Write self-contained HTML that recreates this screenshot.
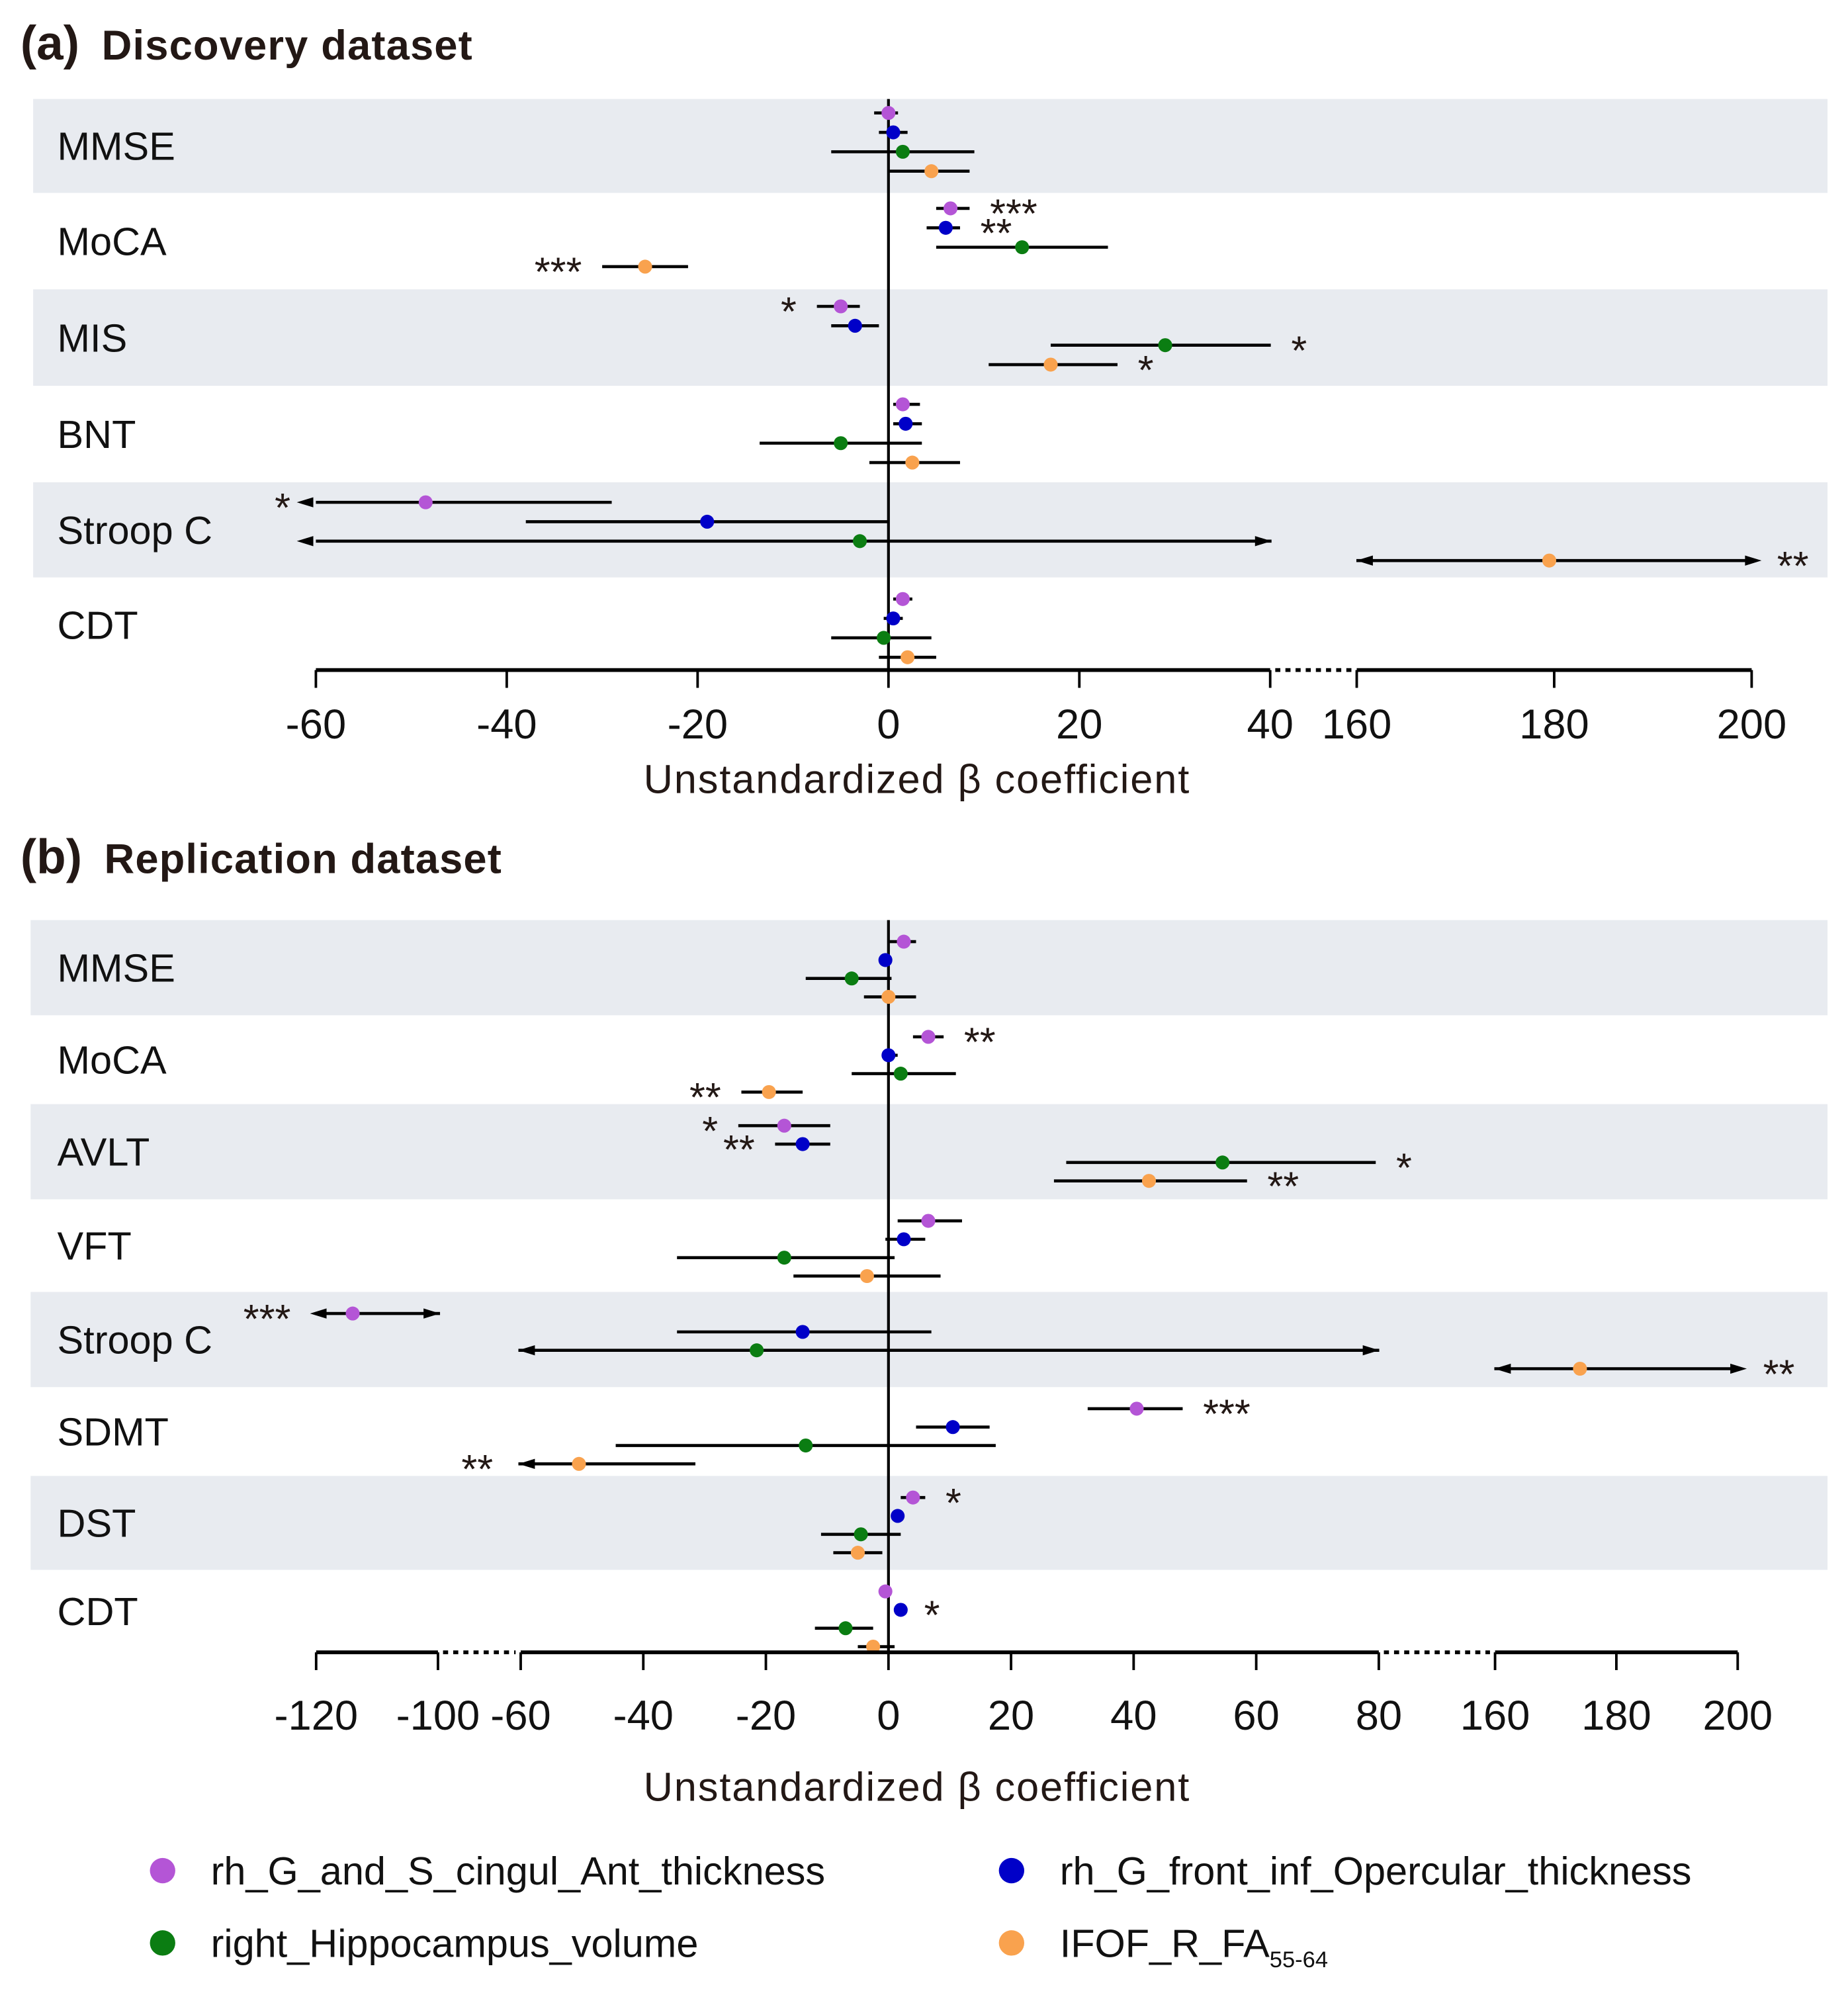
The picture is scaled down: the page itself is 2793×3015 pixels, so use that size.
<!DOCTYPE html>
<html><head><meta charset="utf-8">
<style>
html,body{margin:0;padding:0;background:#fff;}
svg{display:block;font-family:"Liberation Sans",Arial,sans-serif;}
</style></head>
<body>
<svg id="chart" width="2793" height="3015" viewBox="0 0 1456 1572" xmlns="http://www.w3.org/2000/svg">
<g id="A"></g>
<g id="B"></g>
<g id="L"></g>
</svg>
<script>
// ---- data ----
const seriesNames = ["rh_G_and_S_cingul_Ant_thickness","rh_G_front_inf_Opercular_thickness","right_Hippocampus_volume","IFOF_R_FA"];
const seriesColors = ["#b455d6","#0000c8","#0b7d12","#f9a24e"];

const catsA = ["MMSE","MoCA","MIS","BNT","Stroop C","CDT"];
const betaA = [
 [[0,-1.5,1],[0.5,-1,2],[1.5,-6,9],[4.5,0,8.5]],
 [[6.5,5,8.5],[6,4,7.5],[14,5,23],[-25.5,-30,-21]],
 [[-5,-7.5,-3],[-3.5,-6,-1],[29,17,40.5],[17,10.5,24]],
 [[1.5,0.5,3.3],[1.8,0.5,3.5],[-5,-13.5,3.5],[2.5,-2,7.5]],
 [[-48.5,-62,-29],[-19,-38,0],[-3,-62,41.5],[179.5,159.5,201]],
 [[1.5,0.5,2.5],[0.5,-0.5,1.5],[-0.5,-6,4.5],[2,-1,5]]
];
const arrowsA = [
 [[0,0],[0,0],[0,0],[0,0]],[[0,0],[0,0],[0,0],[0,0]],[[0,0],[0,0],[0,0],[0,0]],[[0,0],[0,0],[0,0],[0,0]],
 [[1,0],[0,0],[1,1],[1,1]],[[0,0],[0,0],[0,0],[0,0]]
];
const starsA = [
 ["","","",""],["***R","**R","","***L"],["*L","","*R","*R"],["","","",""],["*L","","","**R"],["","","",""]
];
const ticksA = [-60,-40,-20,0,20,40,160,180,200];

const catsB = ["MMSE","MoCA","AVLT","VFT","Stroop C","SDMT","DST","CDT"];
const betaB = [
 [[2.5,0,4.5],[-0.5,-1.5,0.5],[-6,-13.5,0.5],[0,-4,4.5]],
 [[6.5,4,9],[0,-1,1.5],[2,-6,11],[-19.5,-24,-14]],
 [[-17,-24.5,-9.5],[-14,-18.5,-9.5],[54.5,29,79.5],[42.5,27,58.5]],
 [[6.5,1.5,12],[2.5,-0.5,6],[-17,-34.5,1],[-3.5,-15.5,8.5]],
 [[-114,-121,-99],[-14,-34.5,7],[-21.5,-61,81.5],[174,159.5,201.5]],
 [[40.5,32.5,48],[10.5,4.5,16.5],[-13.5,-44.5,17.5],[-50.5,-61,-31.5]],
 [[4,2,6],[1.5,0.5,2.5],[-4.5,-11,2],[-5,-9,-1]],
 [[-0.5,-1,0],[2,1.5,2.5],[-7,-12,-2.5],[-2.5,-5,1]]
];
const arrowsB = [
 [[0,0],[0,0],[0,0],[0,0]],[[0,0],[0,0],[0,0],[0,0]],[[0,0],[0,0],[0,0],[0,0]],[[0,0],[0,0],[0,0],[0,0]],
 [[1,1],[0,0],[1,1],[1,1]],[[0,0],[0,0],[0,0],[1,0]],[[0,0],[0,0],[0,0],[0,0]],[[0,0],[0,0],[0,0],[0,0]]
];
const starsB = [
 ["","","",""],["**R","","","**L"],["*L","**L","*R","**R"],["","","",""],
 ["***L","","","**R"],["***R","","","**L"],["*R","","",""],["","*R","",""]
];
const ticksB = [-120,-100,-60,-40,-20,0,20,40,60,80,160,180,200];

// ---- axis functions ----
function xA(v){
  if(v<=40) return 700+v*7.52;
  if(v<160) return 1001+(v-40)/120*68;
  return 1069+(v-160)*7.78;
}
function xB(v){
  if(v<=-100) return 249+(v+120)*4.8;
  if(v<-60) return 345+(v+100)/40*65;
  if(v<=80) return 700+v*4.83;
  if(v<160) return 1085+(v-80)/80*93;
  return 1178+(v-160)*4.78;
}
const NS="http://www.w3.org/2000/svg";
function mk(parent,tag,attrs,text){
  const e=document.createElementNS(NS,tag);
  for(const k in attrs) e.setAttribute(k,attrs[k]);
  if(text!==undefined) e.textContent=text;
  parent.appendChild(e); return e;
}
function arrowHead(g,x,y,dir){
  const p=`${x},${y} ${x-dir*13},${y-4} ${x-dir*13},${y+4}`;
  const a=mk(g,"polygon",{points:p,fill:"#000"});
  
  
}

function panel(g,cfg){
  const {cats,beta,arrows,stars,ticks,xf,top,rowH,rowDy,bandsX,axisY,zeroX,title,letter,titleY,lblY,axisTitleY,segs,gaps,lo,hi}=cfg;
  const t1=mk(g,"text",{x:16,y:titleY,"font-size":38,"font-weight":"bold",fill:"#231815"},letter);
  
  const t2=mk(g,"text",{x:letter==="(a)"?80:82,y:titleY,"font-size":33,"font-weight":"bold",fill:"#231815",textLength:letter==="(a)"?292:313},title);
  
  const cat_y=[];
  let y=top;
  cats.forEach((c,i)=>{
    const h=rowH[i];
    if(i%2===0){
      const r=mk(g,"rect",{x:bandsX,y:y,width:1440-bandsX,height:h,fill:"#e8ebf0"});
      
    }
    const lb=mk(g,"text",{x:45,y:y+h/2+11,"font-size":31,fill:"#111"},c);
    
    cat_y.push(y); y+=h;
  });
  const zl=mk(g,"line",{x1:zeroX,x2:zeroX,y1:top,y2:axisY,stroke:"#000","stroke-width":2.2});
  
  cats.forEach((c,i)=>{
    const y0=cat_y[i];
    for(let s=0;s<4;s++){
      const [b,l,h]=beta[i][s];
      const py=y0+rowDy[0]+i*rowDy[2]+s*rowDy[1];
      const x1=xf(Math.max(l,lo)),x2=xf(Math.min(h,hi));
      const ln=mk(g,"line",{x1:x1,x2:x2,y1:py,y2:py,stroke:"#000","stroke-width":2.4});
      
      if(arrows[i][s][0]) arrowHead(g,xf(l),py,-1);
      if(arrows[i][s][1]) arrowHead(g,xf(h),py,1);
      const dot=mk(g,"circle",{cx:xf(b),cy:py,r:5.5,fill:seriesColors[s]});
      
      const st=stars[i][s];
      if(st){
        const side=st.slice(-1), txt=st.slice(0,-1);
        const ex=side==="R"?x2+(arrows[i][s][1]?4:0):x1-(arrows[i][s][0]?4:0);
        const tx=mk(g,"text",{x:side==="R"?ex+16:ex-16,y:py+15,"font-size":32,"text-anchor":side==="R"?"start":"end",fill:"#231815"},txt);
        
      }
    }
  });
  segs.forEach(sg=>{
    const a=mk(g,"line",{x1:xf(sg[0]),x2:xf(sg[1]),y1:axisY,y2:axisY,stroke:"#000","stroke-width":3});
    
  });
  gaps.forEach(gp=>{
    const a=mk(g,"line",{x1:xf(gp[0])+4,x2:xf(gp[1])-4,y1:axisY,y2:axisY,stroke:"#000","stroke-width":3,"stroke-dasharray":"4,4"});
    
  });
  ticks.forEach(t=>{
    const tk=mk(g,"line",{x1:xf(t),x2:xf(t),y1:axisY,y2:axisY+14,stroke:"#000","stroke-width":2});
    
    const tl=mk(g,"text",{x:xf(t),y:lblY,"font-size":33,"text-anchor":"middle",fill:"#111"},String(t));
    
  });
  const at=mk(g,"text",{x:722,y:axisTitleY,"font-size":32,"text-anchor":"middle",fill:"#231815",textLength:430},"Unstandardized β coefficient");
  
}
panel(document.getElementById("A"),{cats:catsA,beta:betaA,arrows:arrowsA,stars:starsA,ticks:ticksA,xf:xA,
  top:78,rowH:[74,76,76,76,75,75],rowDy:[11,15.3,1.2],bandsX:26,axisY:528,zeroX:700,title:"Discovery dataset",letter:"(a)",
  titleY:47,lblY:582,axisTitleY:625,segs:[[-60,40],[160,200]],gaps:[[40,160]],lo:-60,hi:200});
panel(document.getElementById("B"),{cats:catsB,beta:betaB,arrows:arrowsB,stars:starsB,ticks:ticksB,xf:xB,
  top:725,rowH:[75,70,75,73,75,70,74,65],rowDy:[17,14.5,0],bandsX:24,axisY:1302,zeroX:700,title:"Replication dataset",letter:"(b)",
  titleY:688,lblY:1363,axisTitleY:1419,segs:[[-120,-100],[-60,80],[160,200]],gaps:[[-100,-60],[80,160]],lo:-120,hi:200});

// legend
const L=document.getElementById("L");
const legPos=[[128,1474],[797,1474],[128,1531],[797,1531]];
const legLen=[486,498,390,173];
seriesNames.forEach((n,i)=>{
  const c=mk(L,"circle",{cx:legPos[i][0],cy:legPos[i][1],r:10,fill:seriesColors[i]});
  
  const t=mk(L,"text",{x:legPos[i][0]+38,y:legPos[i][1]+11,"font-size":31,fill:"#111"},n);
  
  if(i===3){
    mk(t,"tspan",{"font-size":18,dy:8},"55-64");
  }
});
</script>
</body></html>
